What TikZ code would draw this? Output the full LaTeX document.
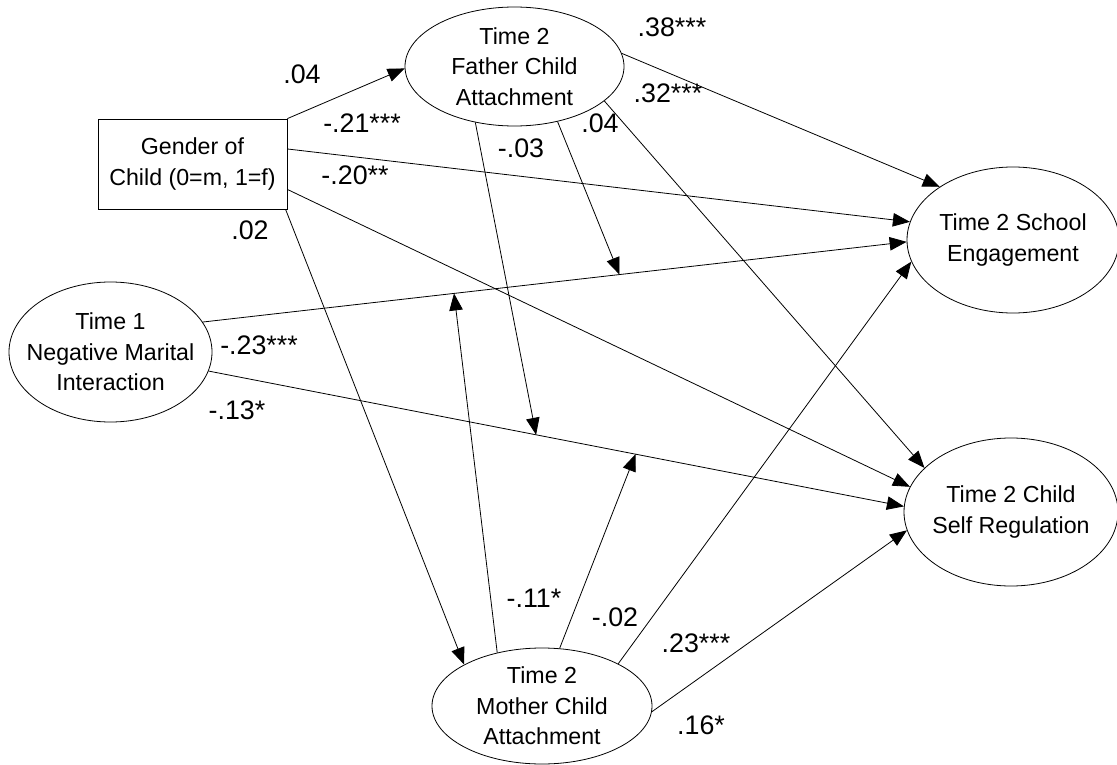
\documentclass[tikz,border=0pt]{standalone}
\usepackage{fontspec}
\setmainfont{Liberation Sans}
\usetikzlibrary{arrows.meta,shapes.geometric}

\begin{document}
\begin{tikzpicture}[x=1pt,y=-1pt,
  every node/.style={font=\fontsize{23.2}{30.5}\selectfont},
  latent/.style={draw, ellipse, line width=0.8pt, inner xsep=-40pt, inner ysep=-12pt, align=center},
  observed/.style={draw, rectangle, line width=0.8pt, inner sep=0pt, align=center,
                   minimum width=189pt, minimum height=90pt},
  coef/.style={inner sep=0pt, font=\fontsize{26.8}{30}\selectfont},
  arr/.style={line width=0.8pt, -{Triangle[length=17pt,width=13.5pt]}}
]
\useasboundingbox (0,0) rectangle (1117,765);

% variables
\node[observed] (gender) at (192.5,164) {Gender of\\Child (0=m, 1=f)};
\node[latent, minimum width=219pt, minimum height=119pt] (father) at (514.5,66.5) {Time 2\\Father Child\\Attachment};
\node[latent, minimum width=203pt, minimum height=140pt] (t1) at (110.5,352) {Time 1\\Negative Marital\\Interaction};
\node[latent, minimum width=212pt, minimum height=146pt] (school) at (1013,240) {Time 2 School\\Engagement};
\node[latent, minimum width=214pt, minimum height=148pt] (selfreg) at (1011,512) {Time 2 Child\\Self Regulation};
\node[latent, minimum width=220pt, minimum height=116pt] (mother) at (542,706) {Time 2\\Mother Child\\Attachment};

% direct paths
\draw[arr] (gender.north east) -- (father.181);
\draw[arr] (gender.9.6) -- (school.170.2);
\draw[arr] (gender.-15.9) -- (selfreg.166.2);
\draw[arr] (gender.-26.4) -- (mother.152);
\draw[arr] (father.7.8) -- (school.144.4);
\draw[arr] (father.-21.4) -- (selfreg.153.7);
\draw[arr] (t1.18.5) -- (school.181.6)
  coordinate[pos=0.357] (onTS1) coordinate[pos=0.592] (onTS2);
\draw[arr] (t1.-11.4) -- (selfreg.177.3)
  coordinate[pos=0.471] (onTR1) coordinate[pos=0.614] (onTR2);
\draw[arr] (mother.-3.6) -- (selfreg.190.7);
\draw[arr] (mother.29.5) -- (school.192.8);

% moderating paths onto the marital interaction effects
\draw[arr] (father.235) -- (onTR1);
\draw[arr] (father.-52.6) -- (onTS2);
\draw[arr] (mother.130.3) -- (onTS1);
\draw[arr] (mother.73.7) -- (onTR2);

% path coefficients
\node[coef] (k1) at (302,74) {.04};
\node[coef] (k2) at (362,123) {-.21***};
\node[coef] (k3) at (355,175) {-.20**};
\node[coef] (k4) at (250,230) {.02};
\node[coef] (k5) at (521,148) {-.03};
\node[coef] (k6) at (600,123) {.04};
\node[coef] (k7) at (672,27) {.38***};
\node[coef] (k8) at (668,93) {.32***};
\node[coef] (k9) at (259,345) {-.23***};
\node[coef] (k10) at (237,410) {-.13*};
\node[coef] (k11) at (534,598) {-.11*};
\node[coef] (k12) at (615,617) {-.02};
\node[coef] (k13) at (696,643) {.23***};
\node[coef] (k14) at (701,725) {.16*};
\end{tikzpicture}
\end{document}
